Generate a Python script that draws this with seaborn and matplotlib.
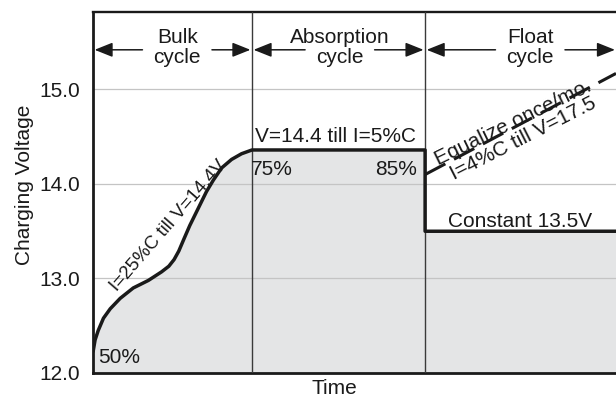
import matplotlib
matplotlib.use("Agg")
import matplotlib.pyplot as plt
import pandas as pd
import seaborn as sns

# charging curve: time (arbitrary units) and charging voltage (V)
time = [0.00, 0.04, 0.10, 0.20, 0.33, 0.52, 0.77, 1.06, 1.31, 1.45, 1.55, 1.64,
        1.74, 1.85, 2.01, 2.17, 2.30, 2.46, 2.65, 2.84, 3.04, 6.35, 6.35, 10.0]
volts = [12.22, 12.35, 12.45, 12.58, 12.68, 12.79, 12.90, 12.98, 13.07, 13.13,
         13.20, 13.29, 13.42, 13.56, 13.74, 13.92, 14.04, 14.17, 14.26, 14.32,
         14.36, 14.36, 13.50, 13.50]

# equalize charge (dashed)
eq_time = [6.35, 10.0]
eq_volts = [14.10, 15.17]

phase_edges = [0.0, 3.04, 6.35, 10.0]
phase_names = ["Bulk", "Absorption", "Float"]
yticks = [12.0, 13.0, 14.0, 15.0]

df = pd.DataFrame({"Time": time, "Voltage": volts})
df_eq = pd.DataFrame({"Time": eq_time, "Voltage": eq_volts})

sns.set_theme(style="white")
plt.rcParams["font.family"] = ["Liberation Sans", "DejaVu Sans"]

fig = plt.figure(figsize=(6.16, 3.98), dpi=100)
ax = fig.add_axes([93 / 616, 25 / 398, 523 / 616, 361 / 398])

FS = 15
fill_col = "#e4e5e6"

ax.fill_between(df["Time"], 12.0, df["Voltage"], color=fill_col, lw=0, zorder=1)

# grid and phase dividers
for v in yticks[1:]:
    ax.axhline(v, color="#c4c4c4", lw=0.9, zorder=2)
for x in phase_edges[1:-1]:
    ax.axvline(x, color="#3a3a3a", lw=1.0, zorder=3)

sns.lineplot(data=df, x="Time", y="Voltage", sort=False, estimator=None,
             color="#1a1a1a", lw=2.5, ax=ax, zorder=5,
             solid_joinstyle="round", solid_capstyle="butt")
sns.lineplot(data=df_eq, x="Time", y="Voltage", sort=False, estimator=None,
             color="#1a1a1a", lw=2.2, linestyle=(0, (7.5, 3.2)), ax=ax, zorder=5)

ax.set_xlim(0, 10)
ax.set_ylim(12.0, 15.82)
ax.set_xticks([])
ax.set_yticks(yticks)
ax.set_yticklabels([f"{v:.1f}" for v in yticks], fontsize=FS, color="#1a1a1a")
ax.tick_params(axis="y", length=0, pad=9.5)

ax.set_xlabel("Time", fontsize=FS, color="#1a1a1a", va="baseline")
ax.xaxis.set_label_coords(0.461, -0.058)
ax.set_ylabel("Charging Voltage", fontsize=FS, color="#1a1a1a")
ax.yaxis.set_label_coords(-0.113, 0.52)

for side in ["left", "top", "bottom"]:
    ax.spines[side].set_color("#1a1a1a")
    ax.spines[side].set_linewidth(2.0)
ax.spines["top"].set_linewidth(1.7)
ax.spines["right"].set_visible(False)

# phase headers with arrows
label_x = [1.61, 4.72, 8.36]
cycle_texts = []
for name, cx in zip(phase_names, label_x):
    ax.text(cx, 15.49, name, ha="center", va="baseline", fontsize=FS, color="#1a1a1a")
    t = ax.text(cx, 15.28, "cycle", ha="center", va="baseline", fontsize=FS, color="#1a1a1a")
    cycle_texts.append(t)

fig.canvas.draw()
inv = ax.transData.inverted()
pad = 11 / 52.3
arrow_y = 15.42
aprops = dict(arrowstyle="-|>,head_length=0.55,head_width=0.22", mutation_scale=20,
              color="#1a1a1a", lw=1.1, shrinkA=0, shrinkB=0)
for i, t in enumerate(cycle_texts):
    bb = t.get_window_extent()
    x0 = inv.transform((bb.x0, 0))[0] - pad
    x1 = inv.transform((bb.x1, 0))[0] + pad
    left_tip = phase_edges[i] + 0.03
    right_tip = phase_edges[i + 1] - 0.03 if i < 2 else 9.98
    ax.annotate("", xy=(left_tip, arrow_y), xytext=(x0, arrow_y), arrowprops=aprops)
    ax.annotate("", xy=(right_tip, arrow_y), xytext=(x1, arrow_y), arrowprops=aprops,
                annotation_clip=False)

# curve annotations
txt = dict(fontsize=FS, color="#1a1a1a")
ax.text(3.10, 14.44, "V=14.4 till I=5%C", ha="left", va="baseline", **txt)
ax.text(3.02, 14.10, "75%", ha="left", va="baseline", **txt)
ax.text(6.20, 14.10, "85%", ha="right", va="baseline", **txt)
ax.text(0.10, 12.11, "50%", ha="left", va="baseline", **txt)
ax.text(6.79, 13.55, "Constant 13.5V", ha="left", va="baseline", **txt)
ax.text(0.45, 12.86, "I=25%C till V=14.4V", ha="left", va="baseline",
        rotation=49, rotation_mode="anchor", fontsize=13.5, color="#1a1a1a")
ax.text(6.60, 14.20, "Equalize once/mo.", ha="left", va="baseline",
        rotation=26, rotation_mode="anchor", **txt)
ax.text(6.90, 14.04, "I=4%C till V=17.5", ha="left", va="baseline",
        rotation=27, rotation_mode="anchor", **txt)

fig.savefig("out.png", dpi=100)
